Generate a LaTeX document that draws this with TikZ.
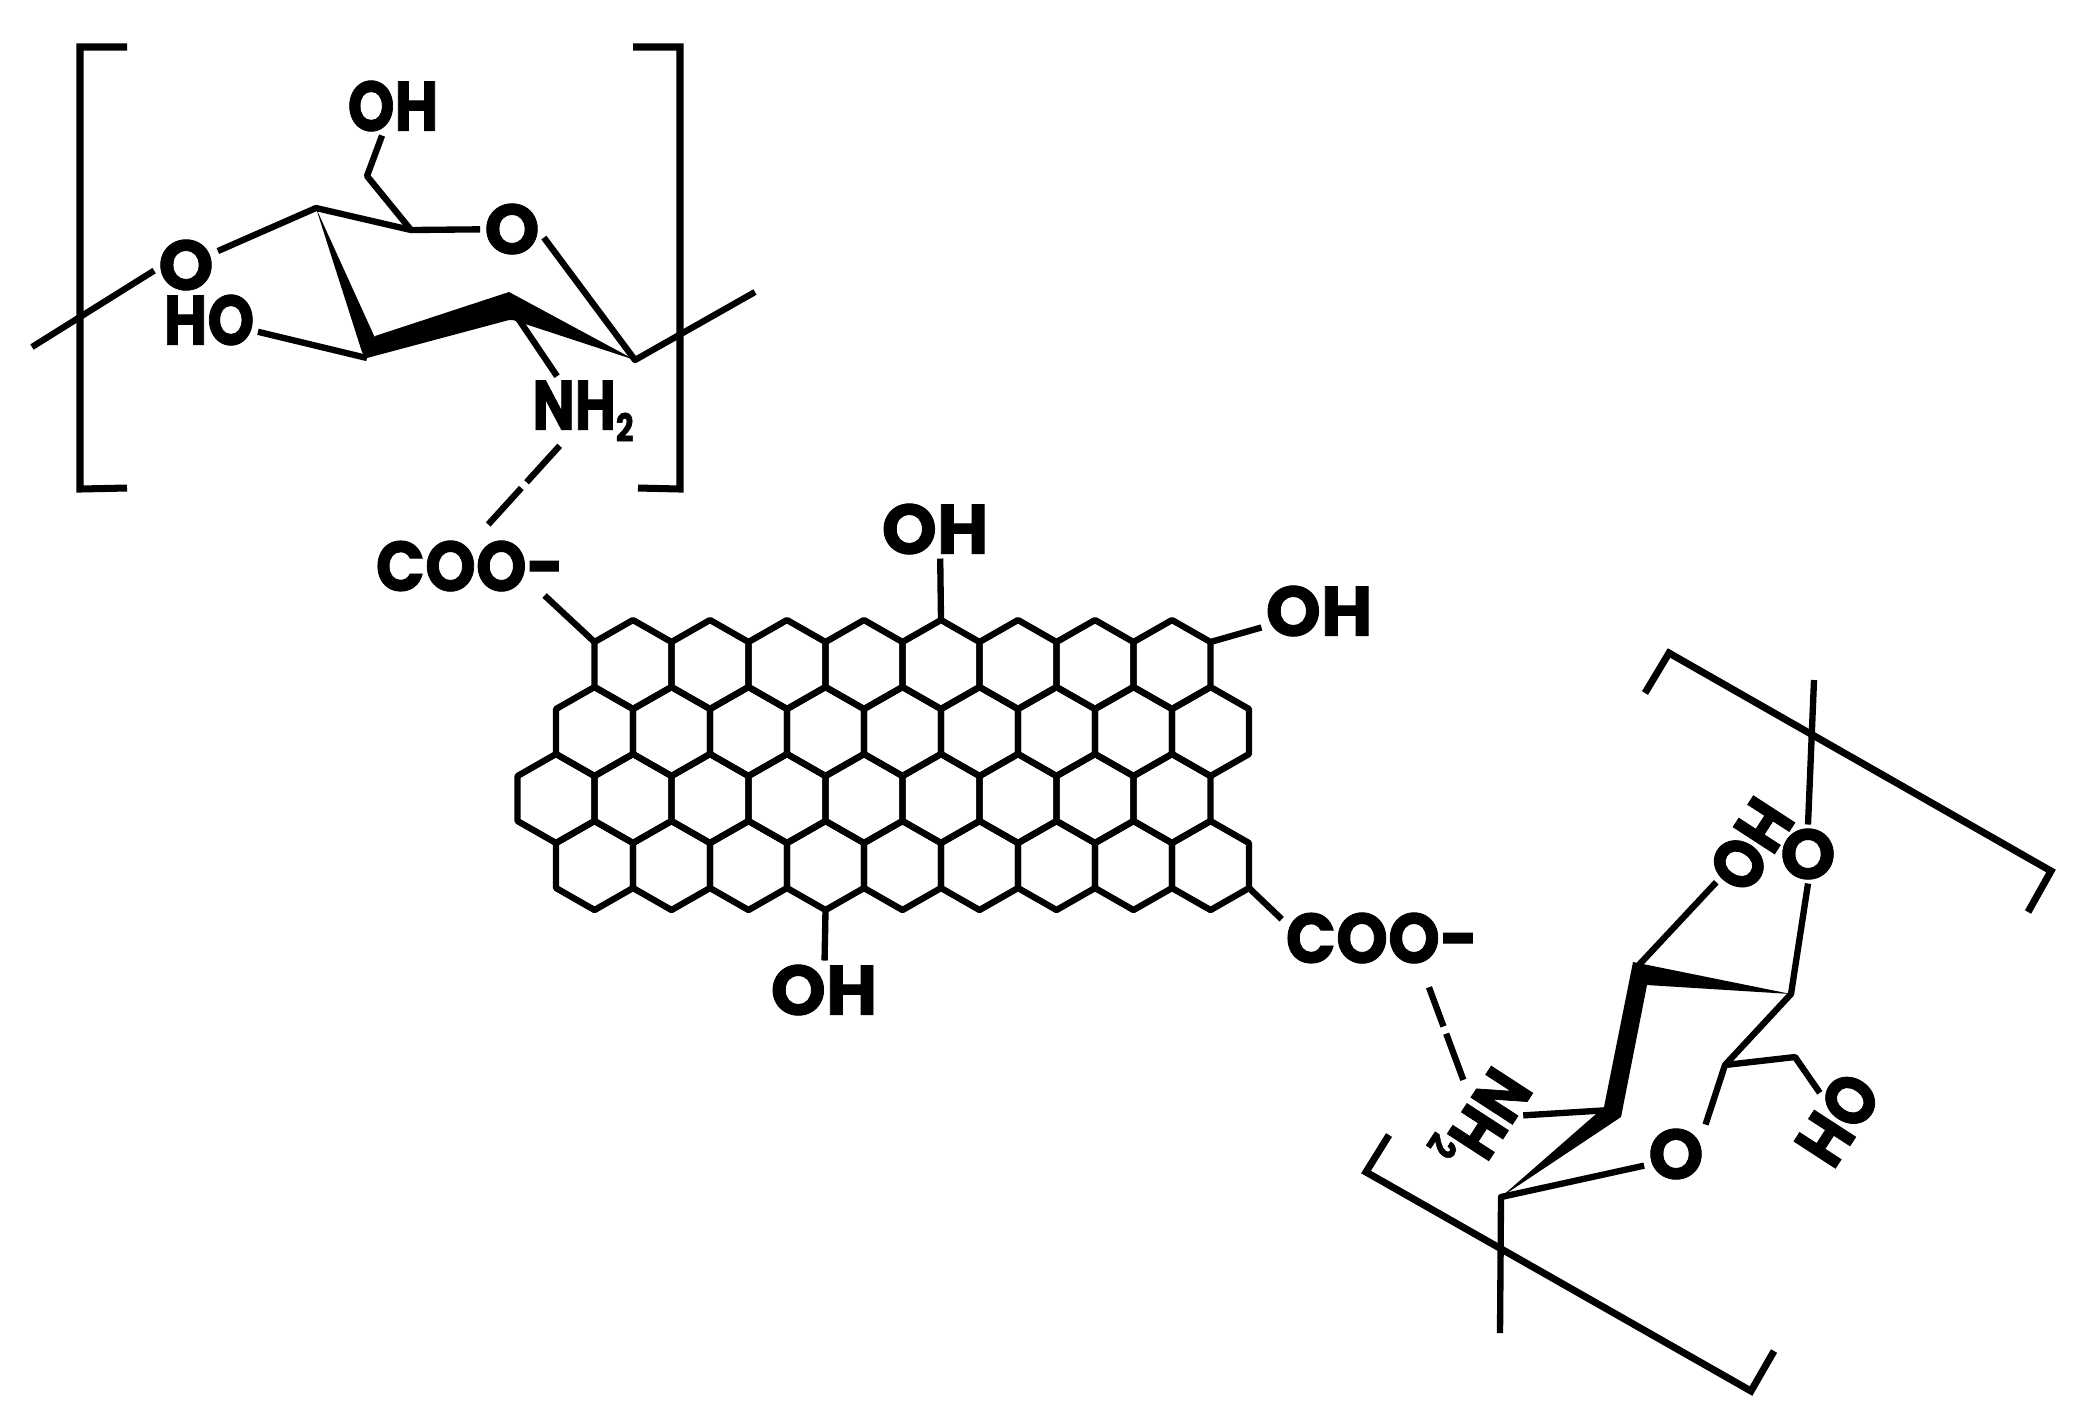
\documentclass[tikz,border=0pt]{standalone}
\usepackage{fontspec}
\setmainfont{Poppins}[BoldFeatures={FakeBold=1.2}]
\usepackage{tikz}
\usetikzlibrary{positioning}
\pgfdeclarelayer{nodelayer}
\pgfdeclarelayer{edgelayer}
\pgfsetlayers{nodelayer,edgelayer,main}
\tikzset{
    none/.style = {inner sep=0pt},
    atom/.style = {inner sep=1pt, transform shape, font=\fontsize{20}{24}\selectfont\bfseries},
    narrow/.style = {atom, xscale=.85},
    turned/.style = {atom, rotate=237, xscale=.87},
    bond/.style = {line width=1.8pt, line join=round},
    bracket/.style = {line width=2pt, line join=miter},
    hbond/.style = {line width=1.8pt, dash pattern=on 14pt off 2.2pt}
}

\begin{document}
\begin{tikzpicture}[x=0.01cm,y=-0.01cm]
    \useasboundingbox (0,0) rectangle (2073,1423);
    \begin{pgfonlayer}{nodelayer}
        % Upper sugar unit
        \node [style=none] (uBrA) at (127,47) {};
        \node [style=none] (uBrB) at (80,47) {};
        \node [style=none] (uBrC) at (80,489) {};
        \node [style=none] (uBrD) at (127,488) {};
        \node [style=none] (uBrE) at (633,47) {};
        \node [style=none] (uBrF) at (680,47) {};
        \node [style=none] (uBrG) at (680,489) {};
        \node [style=none] (uBrH) at (638,488) {};
        \node [style=none] (uCh) at (367,176) {};
        \node [style=none] (uC5) at (411,230) {};
        \node [style=none] (uC4) at (316,208) {};
        \node [style=none] (uC3) at (367,358) {};
        \node [style=none] (uC2) at (509,305) {};
        \node [style=none] (uC1) at (635,360) {};
        \node [style=none] (uEndL) at (32,347) {};
        \node [style=none] (uEndR) at (755,292) {};
        \node [style=narrow] (uOh) at (393,106) {OH};
        \node [style=atom] (uRingO) at (512,229) {O};
        \node [style=atom] (uLinkO) at (186,265) {O};
        \node [style=narrow] (uHo) at (209,320) {HO};
        \node [style=atom, xscale=.8] (uAmine) at (583,411) {NH\raisebox{-.3ex}{\fontsize{11}{12}\selectfont 2}};
        \node [style=atom, xscale=.92] (uCoo) at (470,566) {COO-};
        % Sheet edge points
        \node [style=none] (vTopL) at (594.5,642) {};
        \node [style=none] (vTopM) at (941,620) {};
        \node [style=none] (vTopR) at (1210.5,642) {};
        \node [style=none] (vBotM) at (825.5,910) {};
        \node [style=none] (vBotR) at (1249,888) {};
        \node [style=atom] (sOhTop) at (935,529) {OH};
        \node [style=atom] (sOhRight) at (1319,611) {OH};
        \node [style=atom] (sOhBot) at (824,990) {OH};
        \node [style=atom, xscale=.94] (sCoo) at (1382,938) {COO-};
        % Lower sugar unit
        \node [style=none] (lBrA) at (1645,693) {};
        \node [style=none] (lBrB) at (1669,653) {};
        \node [style=none] (lBrC) at (2051,871) {};
        \node [style=none] (lBrD) at (2028,912) {};
        \node [style=none] (lBrE) at (1389,1135) {};
        \node [style=none] (lBrF) at (1366,1172) {};
        \node [style=none] (lBrG) at (1751,1391) {};
        \node [style=none] (lBrH) at (1774,1351) {};
        \node [style=none] (lEndT) at (1814,680) {};
        \node [style=none] (lEndB) at (1500,1333) {};
        \node [style=none] (lCa) at (1791,994) {};
        \node [style=none] (lCb) at (1636,968) {};
        \node [style=none] (lCc) at (1610,1110) {};
        \node [style=none] (lCd) at (1501,1197) {};
        \node [style=none] (lCe) at (1725,1065) {};
        \node [style=none] (lCh) at (1795,1057) {};
        \node [style=atom] (lRingO) at (1676,1154) {O};
        \node [style=atom] (lLinkO) at (1808,854) {O};
        \node [style=turned] (lHo) at (1751,845) {HO};
        \node [style=turned] (lOh) at (1838,1119) {OH};
        \node [style=turned, xscale=.97] (lAmine) at (1480,1118) {NH\raisebox{-.3ex}{\fontsize{11}{12}\selectfont 2}};
    \end{pgfonlayer}
    \begin{pgfonlayer}{edgelayer}
        % Upper sugar unit
        \draw [style=bracket] (uBrA.center) to (uBrB.center) to (uBrC.center) to (uBrD.center);
        \draw [style=bracket] (uBrE.center) to (uBrF.center) to (uBrG.center) to (uBrH.center);
        \draw [style=bond] (uOh) to (uCh.center) to (uC5.center) to (uRingO);
        \draw [style=bond] (uC5.center) to (uC4.center) to (uLinkO);
        \draw [style=bond] (uRingO.-15) to (uC1.center) to (uEndR.center);
        \draw [style=bond] (uLinkO.190) to (uEndL.center);
        \draw [style=bond] (uHo) to (uC3.center);
        \draw [style=bond] (uC2.center) to (uAmine.133);
        \fill (uC4.center) -- (362,352) -- (uC3.center) -- (376,340) -- cycle;
        \fill (uC3.center) -- (375,336) -- (509,292) -- (uC1.center) -- (513,320) -- (509,320) -- cycle;
        \draw [style=hbond, shorten >=3pt] (uAmine.-130) to (uCoo.75);
        \draw [style=bond] (uCoo.-20) to (vTopL.center);
        % Graphene sheet
        \foreach \rowx/\rowy/\cells in {633/620/7, 594.5/687/8, 556/754/8, 594.5/821/8} {
            \foreach \k in {0,...,\cells} {
                \draw [style=bond] ({\rowx+77*\k},\rowy) -- ++(38.5,22) -- ++(0,45) -- ++(-38.5,22)
                    -- ++(-38.5,-22) -- ++(0,-45) -- cycle;
            }
        }
        \draw [style=bond] (vTopM.center) to (sOhTop.-80);
        \draw [style=bond] (vTopR.center) to (sOhRight);
        \draw [style=bond] (vBotM.center) to (sOhBot);
        \draw [style=bond] (vBotR.center) to (sCoo.170);
        % Lower sugar unit
        \draw [style=bracket] (lBrA.center) to (lBrB.center) to (lBrC.center) to (lBrD.center);
        \draw [style=bracket] (lBrE.center) to (lBrF.center) to (lBrG.center) to (lBrH.center);
        \draw [style=bond] (lEndT.center) to (lLinkO.north);
        \draw [style=bond] (lLinkO.south) to (lCa.center) to (lCe.center) to (lRingO.45);
        \draw [style=bond] (lRingO.-160) to (lCd.center) to (lEndB.center);
        \draw [style=bond] (lCe.center) to (lCh.center) to (lOh);
        \draw [style=bond] (lCb.center) to (lHo);
        \draw [style=bond] (lCc.center) to (lAmine);
        \fill (lCa.center) -- (1647,985) -- (1621,1117) -- (lCd.center) -- (1604,1107) -- (1633,962) -- cycle;
        \draw [style=hbond, shorten >=6pt] (lAmine.-128) to (sCoo.-35);
    \end{pgfonlayer}
\end{tikzpicture}
\end{document}
